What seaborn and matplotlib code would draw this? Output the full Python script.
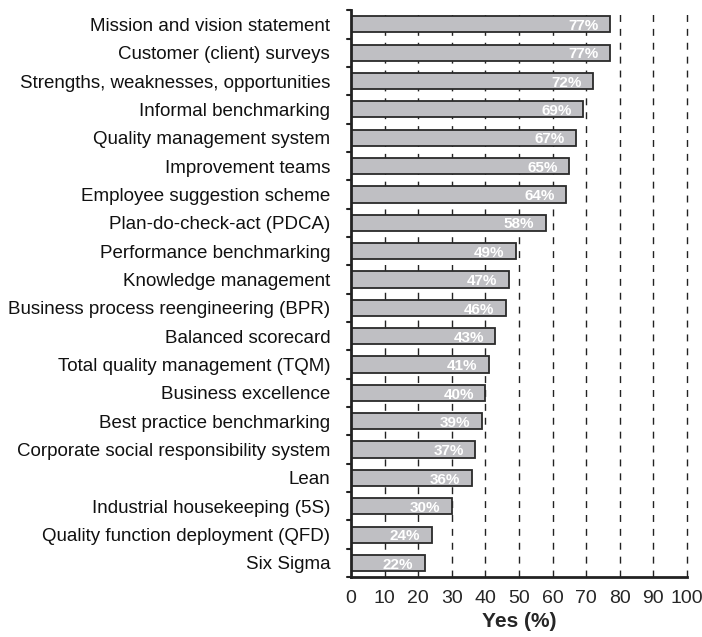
import matplotlib
matplotlib.use("Agg")
import matplotlib.pyplot as plt
import seaborn as sns
import pandas as pd

categories = [
    "Mission and vision statement",
    "Customer (client) surveys",
    "Strengths, weaknesses, opportunities",
    "Informal benchmarking",
    "Quality management system",
    "Improvement teams",
    "Employee suggestion scheme",
    "Plan-do-check-act (PDCA)",
    "Performance benchmarking",
    "Knowledge management",
    "Business process reengineering (BPR)",
    "Balanced scorecard",
    "Total quality management (TQM)",
    "Business excellence",
    "Best practice benchmarking",
    "Corporate social responsibility system",
    "Lean",
    "Industrial housekeeping (5S)",
    "Quality function deployment (QFD)",
    "Six Sigma",
]
values = [77, 77, 72, 69, 67, 65, 64, 58, 49, 47, 46, 43, 41, 40, 39, 37, 36, 30, 24, 22]
x_ticks = [0, 10, 20, 30, 40, 50, 60, 70, 80, 90, 100]

df = pd.DataFrame({"tool": categories, "yes": values})

sns.set_theme(style="white")
plt.rcParams["font.family"] = ["Liberation Sans", "DejaVu Sans"]

fig = plt.figure(figsize=(7.02, 6.37), dpi=100)
ax = fig.add_axes([0.5, 0.094, 0.4786, 0.89])

for xv in x_ticks[1:]:
    ax.axvline(xv, color="#222222", linestyle=(0, (5, 5)), linewidth=1.0,
               zorder=0, clip_on=False)

sns.barplot(data=df, x="yes", y="tool", orient="h", ax=ax,
            color="#bfbfc3", saturation=1, width=0.57,
            edgecolor="#2a2a2a", linewidth=1.3, zorder=2)

for i, v in enumerate(values):
    ax.text(v - 3.4, i + 0.06, f"{v}%", color="white", fontweight="bold",
            fontsize=11, ha="right", va="center", zorder=3)

ax.set_xlim(0, 100)
ax.set_ylim(len(categories) - 0.5, -0.5)
ax.set_xticks(x_ticks)
ax.set_xticklabels([str(t) for t in x_ticks], fontsize=14)
ax.set_yticks(range(len(categories)))
ax.set_yticklabels(categories, fontsize=13.5, color="#111111")
ax.tick_params(axis="y", length=0, pad=15)
ax.tick_params(axis="x", length=4, width=1.2, direction="out", pad=5, color="#222222")
# y ticks at row boundaries
for b in [i - 0.5 for i in range(len(categories) + 1)]:
    ax.plot([-1.2, 0], [b, b], color="#222222", lw=1.5, clip_on=False, zorder=4)

ax.set_xlabel("Yes (%)", fontsize=15, fontweight="bold", labelpad=4)
ax.set_ylabel("")

for side in ["top", "right"]:
    ax.spines[side].set_visible(False)
for side in ["left", "bottom"]:
    ax.spines[side].set_visible(True)
    ax.spines[side].set_color("#222222")
    ax.spines[side].set_linewidth(2.0)

fig.savefig("out.png", dpi=100)
